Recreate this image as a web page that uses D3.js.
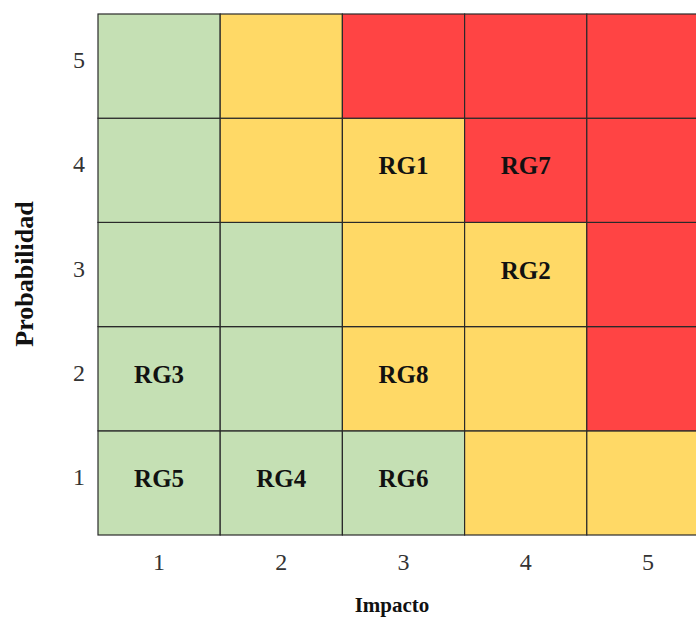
<!DOCTYPE html>
<html>
<head>
<meta charset="utf-8">
<script src="https://cdn.jsdelivr.net/npm/d3@7"></script>
<style>
  html, body { margin: 0; padding: 0; background: #fff; }
  svg { display: block; }
</style>
</head>
<body>
<svg id="chart" width="696" height="621"></svg>
<script>
// ---- data ----
const impactTicks = ["1", "2", "3", "4", "5"];
const probTicks = ["1", "2", "3", "4", "5"];
// risk level per cell: rows = probability 1..5, columns = impact 1..5
const levelP1 = ["bajo", "bajo", "bajo", "medio", "medio"];
const levelP2 = ["bajo", "bajo", "medio", "medio", "alto"];
const levelP3 = ["bajo", "bajo", "medio", "medio", "alto"];
const levelP4 = ["bajo", "medio", "medio", "alto", "alto"];
const levelP5 = ["bajo", "medio", "alto", "alto", "alto"];
const levelRows = [levelP1, levelP2, levelP3, levelP4, levelP5];
// risks placed on the matrix
const riskNames = ["RG1", "RG2", "RG3", "RG4", "RG5", "RG6", "RG7", "RG8"];
const riskImpact = ["3", "4", "1", "2", "1", "3", "4", "3"];
const riskProb = ["4", "3", "2", "1", "1", "1", "4", "2"];

const levelColor = { bajo: "#c5e0b4", medio: "#ffd966", alto: "#ff4444" };

// ---- layout ----
const svg = d3.select("#chart");
const mLeft = 98, mRight = 709, mTop = 14, mBottom = 535;

const x = d3.scaleBand().domain(impactTicks).range([mLeft, mRight]).padding(0);
const y = d3.scaleBand().domain(probTicks.slice().reverse()).range([mTop, mBottom]).padding(0);

const cells = [];
levelRows.forEach((row, i) => {
  row.forEach((lv, j) => {
    cells.push({ imp: impactTicks[j], prob: probTicks[i], level: lv });
  });
});

svg.append("g").selectAll("rect").data(cells).join("rect")
  .attr("x", d => x(d.imp))
  .attr("y", d => y(d.prob))
  .attr("width", x.bandwidth())
  .attr("height", y.bandwidth())
  .attr("fill", d => levelColor[d.level])
  .attr("stroke", "#2a2a2a")
  .attr("stroke-width", 1.2);

// risk labels
const risks = riskNames.map((n, i) => ({ name: n, imp: riskImpact[i], prob: riskProb[i] }));
svg.append("g").selectAll("text").data(risks).join("text")
  .attr("x", d => x(d.imp) + x.bandwidth() / 2)
  .attr("y", d => y(d.prob) + y.bandwidth() / 2 + 4)
  .attr("text-anchor", "middle")
  .attr("font-family", "'Liberation Serif', 'Times New Roman', serif")
  .attr("font-weight", "bold")
  .attr("font-size", 25)
  .attr("fill", "#111")
  .text(d => d.name);

// x axis
const xAxis = d3.axisBottom(x).tickSize(0).tickPadding(0);
const gx = svg.append("g").attr("transform", `translate(0,${mBottom})`).call(xAxis);
gx.select(".domain").remove();
gx.selectAll("text")
  .attr("y", 35)
  .attr("dy", 0)
  .attr("font-family", "'Liberation Serif', 'Times New Roman', serif")
  .attr("font-size", 24)
  .attr("fill", "#333");

// y axis
const yAxis = d3.axisLeft(y).tickSize(0).tickPadding(0);
const gy = svg.append("g").attr("transform", `translate(${mLeft},0)`).call(yAxis);
gy.select(".domain").remove();
gy.selectAll("text")
  .attr("x", -13)
  .attr("dy", 0)
  .attr("y", 2)
  .attr("font-family", "'Liberation Serif', 'Times New Roman', serif")
  .attr("font-size", 24)
  .attr("fill", "#333");

// axis titles
svg.append("text")
  .attr("x", 392)
  .attr("y", 612)
  .attr("text-anchor", "middle")
  .attr("font-family", "'Liberation Serif', 'Times New Roman', serif")
  .attr("font-weight", "bold")
  .attr("font-size", 21)
  .attr("fill", "#111")
  .text("Impacto");

svg.append("text")
  .attr("transform", "translate(33,274) rotate(-90)")
  .attr("text-anchor", "middle")
  .attr("font-family", "'Liberation Serif', 'Times New Roman', serif")
  .attr("font-weight", "bold")
  .attr("font-size", 26)
  .attr("fill", "#111")
  .text("Probabilidad");
</script>
</body>
</html>
